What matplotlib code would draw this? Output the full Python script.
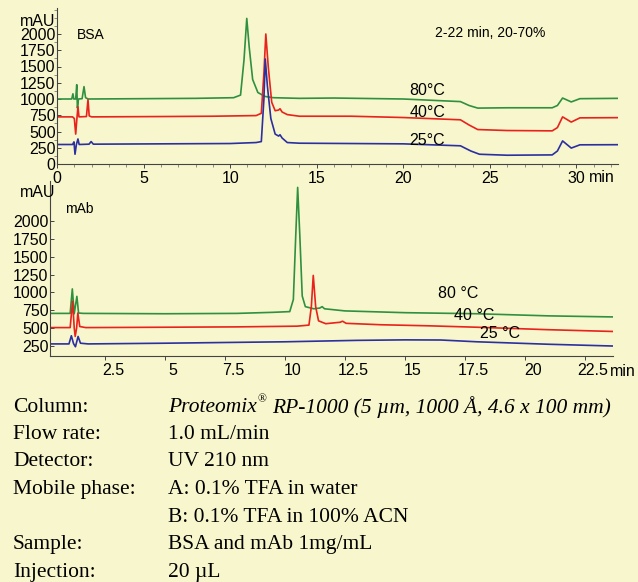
import matplotlib
matplotlib.use("Agg")
import matplotlib.pyplot as plt
import matplotlib.transforms as mtransforms
import numpy as np

# BSA chromatograms (time min, signal mAU)
bsa_80_t = [0, 0.85, 0.92, 0.97, 1.08, 1.14, 1.18, 1.24, 1.45, 1.56, 1.65, 1.8, 5, 8, 10.2, 10.6, 10.8,
            10.96, 11.1, 11.3, 11.6, 12.0, 12.5, 14, 16, 20, 23.3, 23.8, 24.3, 26, 28.6, 28.9, 29.2,
            29.7, 30.2, 32.4]
bsa_80_y = [1000, 1000, 1080, 1000, 1000, 1220, 860, 1000, 1005, 1190, 1020, 1000, 1005, 1010, 1020, 1060, 1600,
            2240, 1800, 1300, 1100, 1040, 1020, 1010, 1015, 1000, 960, 900, 860, 865, 865, 900, 1015,
            955, 1005, 1010]
bsa_40_t = [0, 0.9, 1.0, 1.08, 1.15, 1.21, 1.27, 1.7, 1.79, 1.86, 2.0, 6, 9, 11.5, 11.8, 11.95, 12.06,
            12.2, 12.4, 12.6, 12.8, 12.88, 13.0, 13.3, 14, 17, 20, 23.3, 23.8, 24.3, 26, 28.6, 28.9,
            29.2, 29.7, 30.2, 32.4]
bsa_40_y = [725, 725, 700, 460, 700, 880, 725, 730, 990, 740, 725, 730, 735, 745, 780, 1400, 2000,
            1500, 950, 820, 830, 850, 800, 760, 735, 735, 715, 680, 600, 530, 515, 510, 560,
            725, 645, 710, 713]
bsa_25_t = [0, 0.9, 0.98, 1.04, 1.12, 1.21, 1.28, 1.85, 1.97, 2.1, 6, 10, 11.5, 11.8, 11.95, 12.03,
            12.15, 12.35, 12.6, 12.8, 12.88, 13.0, 13.3, 14, 20, 23.3, 23.9, 24.4, 26, 28.6, 28.9,
            29.2, 29.7, 30.2, 32.4]
bsa_25_y = [300, 300, 340, 150, 300, 385, 300, 305, 345, 305, 310, 315, 330, 345, 1000, 1615,
            1200, 700, 460, 430, 450, 400, 330, 320, 310, 280, 200, 150, 135, 140, 200,
            355, 245, 295, 297]

# mAb chromatograms
mab_80_t = [0.2, 1.05, 1.14, 1.22, 1.33, 1.4, 1.6, 5, 8, 9.5, 10.2, 10.35, 10.45, 10.53, 10.62,
            10.72, 10.85, 11.2, 11.45, 11.55, 11.65, 12.5, 15, 18, 21, 23.7]
mab_80_y = [705, 705, 1050, 700, 945, 710, 705, 700, 705, 720, 730, 900, 1800, 2480, 1800,
            950, 800, 770, 780, 800, 770, 740, 715, 700, 670, 655]
mab_40_t = [0.2, 1.05, 1.15, 1.22, 1.26, 1.32, 1.37, 1.45, 1.7, 5, 8, 10.5, 11.0, 11.1, 11.18,
            11.28, 11.4, 11.7, 12.3, 12.4, 12.55, 14, 16, 18, 21, 23.7]
mab_40_y = [505, 505, 875, 500, 380, 500, 710, 520, 505, 510, 515, 525, 540, 800, 1240,
            800, 600, 560, 580, 595, 565, 545, 530, 510, 475, 450]
mab_25_t = [0.2, 1.0, 1.1, 1.19, 1.27, 1.38, 1.48, 1.8, 5, 10, 13, 15, 16.5, 18, 21, 23.7]
mab_25_y = [275, 275, 390, 280, 235, 380, 285, 275, 285, 305, 325, 332, 330, 305, 270, 245]

conditions = [("Column:", "Proteomix"),
              ("Flow rate:", "1.0 mL/min"),
              ("Detector:", "UV 210 nm"),
              ("Mobile phase:", "A: 0.1% TFA in water"),
              ("", "B: 0.1% TFA in 100% ACN"),
              ("Sample:", "BSA and mAb 1mg/mL"),
              ("Injection:", "20 µL")]

BG = "#f8f6cc"
GREEN = "#2f9040"
RED = "#e8221c"
BLUE = "#2b2fa0"
W, H = 638, 582

plt.rcParams["font.family"] = ["Liberation Sans", "DejaVu Sans"]
fig = plt.figure(figsize=(W / 100, H / 100), dpi=100, facecolor=BG)


def px(x, y):
    return x / W, 1 - y / H


def style(ax):
    ax.set_facecolor("none")
    for s in ["top", "right"]:
        ax.spines[s].set_visible(False)
    for s in ["left", "bottom"]:
        ax.spines[s].set_color("#444444")
        ax.spines[s].set_linewidth(0.8)
    ax.tick_params(axis="x", direction="out", length=3, width=0.7, color="#444444",
                   labelsize=11.5, pad=2)
    ax.tick_params(axis="y", direction="in", length=3, width=0.7, color="#444444",
                   labelsize=11.5, pad=1)
    ax.tick_params(which="minor", length=2, width=0.5, color="#666666")


# ---- top panel: BSA
ax1 = fig.add_axes([57 / W, 1 - 164 / H, 561 / W, 156 / H])
style(ax1)
ax1.plot(bsa_80_t, bsa_80_y, color=GREEN, lw=1.2)
ax1.plot(bsa_40_t, bsa_40_y, color=RED, lw=1.2)
ax1.plot(bsa_25_t, bsa_25_y, color=BLUE, lw=1.2)
ax1.set_xlim(0, 32.4)
ax1.set_ylim(0, 2400)
ax1.set_xticks([0, 5, 10, 15, 20, 25, 30])
ax1.set_xticks(np.arange(0, 33, 1), minor=True)
ax1.set_yticks(np.arange(0, 2001, 250))
ax1.set_yticks(np.arange(0, 2376, 125), minor=True)
ax1.text(1.15, 1985, "BSA", fontsize=10, va="center", ha="left")
ax1.text(25.0, 2015, "2-22 min, 20-70%", fontsize=10, va="center", ha="center")
ax1.text(21.4, 1138, "80°C", fontsize=11.5, ha="center", va="center")
ax1.text(21.4, 785, "40°C", fontsize=11.5, ha="center", va="center")
ax1.text(21.4, 369, "25°C", fontsize=11.5, ha="center", va="center")

# ---- bottom panel: mAb
ax2 = fig.add_axes([50 / W, 1 - 355.7 / H, 563 / W, 174.7 / H])
style(ax2)
ax2.plot(mab_80_t, mab_80_y, color=GREEN, lw=1.2)
ax2.plot(mab_40_t, mab_40_y, color=RED, lw=1.2)
ax2.plot(mab_25_t, mab_25_y, color=BLUE, lw=1.2)
ax2.set_xlim(0.21, 23.67)
ax2.set_ylim(109, 2570)
ax2.set_xticks([2.5, 5, 7.5, 10, 12.5, 15, 17.5, 20, 22.5])
ax2.set_xticklabels(["2.5", "5", "7.5", "10", "12.5", "15", "17.5", "20", "22.5"])
ax2.set_yticks(np.arange(250, 2001, 250))
shift = mtransforms.ScaledTranslation(0.08, 0, fig.dpi_scale_trans)
for lbl in ax2.get_xticklabels():
    lbl.set_transform(lbl.get_transform() + shift)
ax2.text(0.83, 2170, "mAb", fontsize=10, va="center", ha="left")
ax2.text(17.2, 982, "80 °C", fontsize=11.5, ha="center", va="center")
ax2.text(17.9, 670, "40 °C", fontsize=11.5, ha="center", va="center")
ax2.text(18.96, 416, "25 °C", fontsize=11.5, ha="center", va="center")

# axis unit labels
fig.text(*px(38, 22), "mAU", fontsize=11.5, ha="center", va="center")
fig.text(*px(38, 193), "mAU", fontsize=11.5, ha="center", va="center")
fig.text(*px(602, 177), "min", fontsize=11.5, ha="center", va="center")
fig.text(*px(623, 371), "min", fontsize=11.5, ha="center", va="center")

# ---- method conditions
serif = ["Liberation Serif", "DejaVu Serif"]
row_y = [407, 434.5, 462, 489.5, 517, 544.5, 572]
for (label, value), y in zip(conditions, row_y):
    fig.text(*px(13, y), label, family=serif, fontsize=15.5, ha="left", va="center")
    if label == "Column:":
        t = fig.text(*px(168, y), value, family=serif, style="italic", fontsize=15.5,
                     ha="left", va="center")
        r = fig.canvas.get_renderer()
        x_end = t.get_window_extent(r).x1
        fig.text(x_end / W + 0.001, 1 - (y - 8) / H, "®", family=serif, fontsize=8.5,
                 ha="left", va="center")
        fig.text(x_end / W + 0.024, 1 - y / H, "RP-1000 (5 µm, 1000 Å, 4.6 x 100 mm)",
                 family=serif, style="italic", fontsize=15.5, ha="left", va="center")
    else:
        fig.text(*px(168, y), value, family=serif, fontsize=15.5, ha="left", va="center")

fig.savefig("out.png", dpi=100, facecolor=BG)
